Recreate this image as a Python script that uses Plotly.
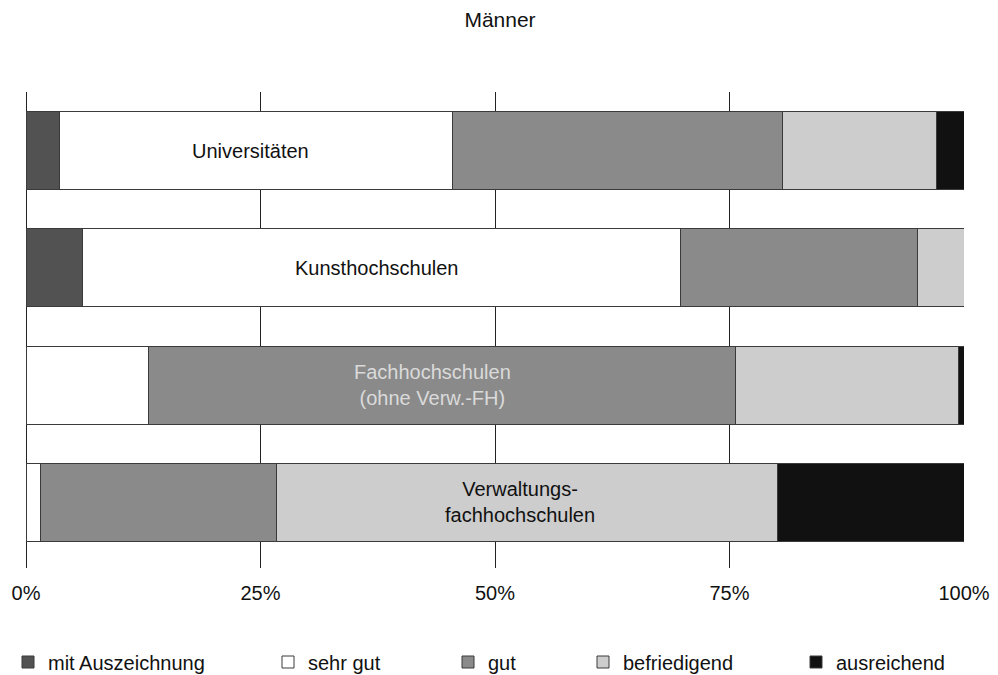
import plotly.graph_objects as go

categories = ["Universitäten", "Kunsthochschulen", "Fachhochschulen", "Verwaltungsfachhochschulen"]
series_names = ["mit Auszeichnung", "sehr gut", "gut", "befriedigend", "ausreichend"]
mit_auszeichnung = [3.6, 6.0, 0.0, 0.0]
sehr_gut = [41.9, 63.8, 13.1, 1.5]
gut = [35.2, 25.2, 62.5, 25.2]
befriedigend = [16.4, 5.0, 23.8, 53.4]
ausreichend = [2.9, 0.0, 0.6, 19.9]
tick_vals = [0, 25, 50, 75, 100]
tick_text = ["0%", "25%", "50%", "75%", "100%"]

values = [mit_auszeichnung, sehr_gut, gut, befriedigend, ausreichend]
colors = ["#525252", "#ffffff", "#8a8a8a", "#cdcdcd", "#111111"]

W, H = 990, 667   # page body adds an 8px margin
legend_text_x = [45, 308, 488, 623, 836]

FONT = "Liberation Sans, Arial, sans-serif"

fig = go.Figure()
for i, (name, vals, col) in enumerate(zip(series_names, values, colors)):
    lg = "legend" if i == 0 else f"legend{i+1}"
    fig.add_trace(go.Bar(
        y=categories, x=vals, name=name, orientation="h",
        marker=dict(color=col, line=dict(color="#3a3a3a", width=1)),
        width=0.665, legend=lg, hoverinfo="x+name",
    ))

layout_legends = {}
for i, tx in enumerate(legend_text_x):
    key = "legend" if i == 0 else f"legend{i+1}"
    layout_legends[key] = dict(
        xref="container", yref="container", orientation="h",
        x=(tx - 8 - 40) / W, y=1 - 654 / H, xanchor="left", yanchor="middle",
        font=dict(family=FONT, size=20, color="#111"),
        bgcolor="rgba(0,0,0,0)", itemwidth=30,
    )

labels = [
    ("Universitäten", 23.9, 0, "#111"),
    ("Kunsthochschulen", 37.4, 1, "#111"),
    ("Fachhochschulen<br>(ohne Verw.-FH)", 43.3, 2, "#dadada"),
    ("Verwaltungs-<br>fachhochschulen", 52.7, 3, "#111"),
]
annotations = []
for txt, xp, yi, c in labels:
    annotations.append(dict(
        x=xp, y=categories[yi], xref="x", yref="y", text=txt, showarrow=False,
        font=dict(family=FONT, size=20, color=c), align="center",
    ))

fig.update_layout(
    width=W, height=H,
    barmode="stack",
    paper_bgcolor="white", plot_bgcolor="white",
    margin=dict(l=18, r=34, t=84, b=107, autoexpand=False),
    title=dict(text="Männer", x=492 / W, xanchor="center", y=1 - 12 / H, yanchor="middle",
               xref="container", yref="container",
               font=dict(family=FONT, size=21, color="#111")),
    font=dict(family=FONT, size=20, color="#111"),
    xaxis=dict(range=[0, 100], tickvals=tick_vals, ticktext=tick_text,
               showgrid=True, gridcolor="#222", gridwidth=1,
               zeroline=True, zerolinecolor="#222", zerolinewidth=1,
               showline=False, ticks="", ticklabelstandoff=11,
               tickfont=dict(family=FONT, size=20, color="#111")),
    yaxis=dict(range=[3.56, -0.5], showticklabels=False, showgrid=False,
               zeroline=False, showline=False, ticks=""),
    showlegend=True,
    annotations=annotations,
    **layout_legends,
)

fig.write_html("out.html")
